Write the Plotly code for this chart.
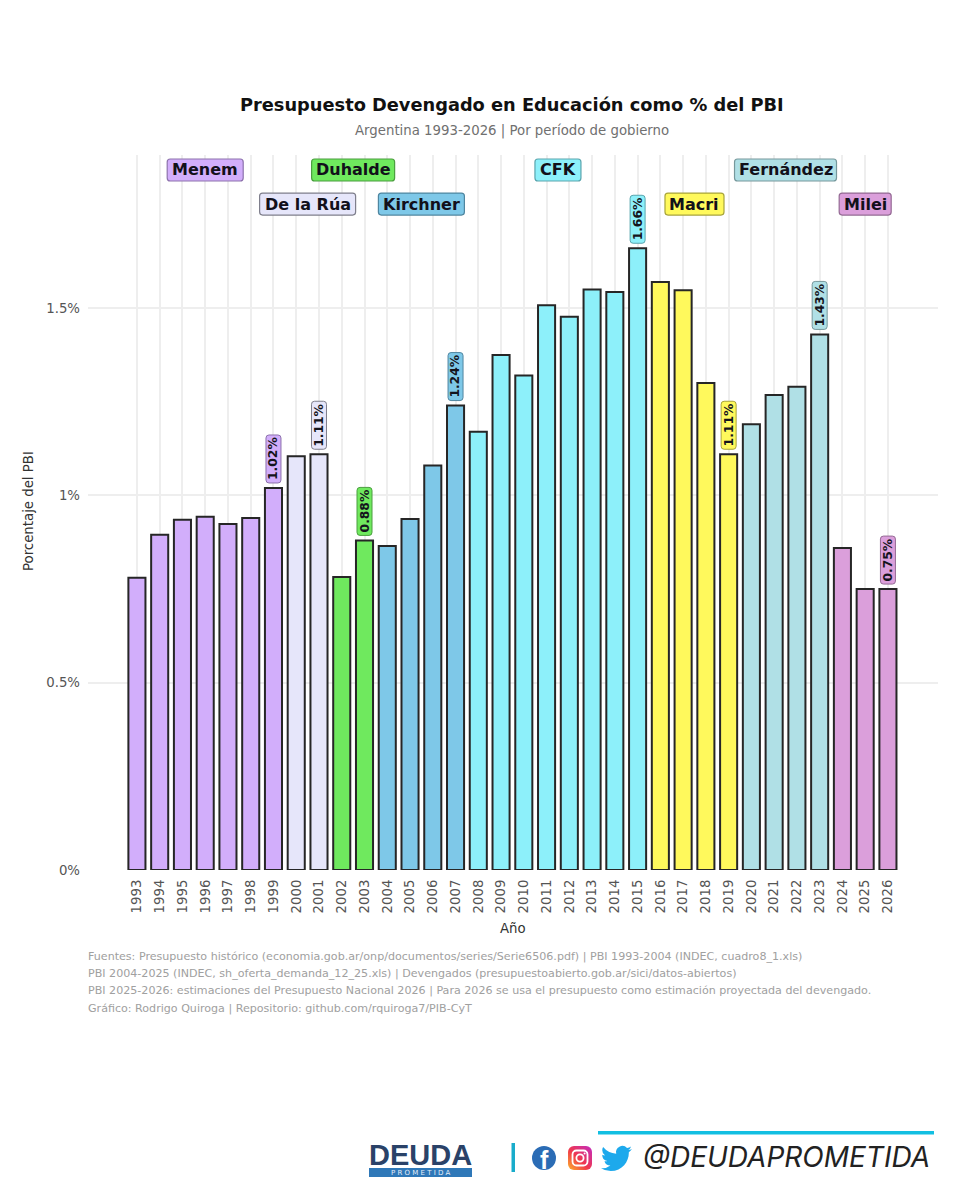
import plotly.graph_objects as go
import urllib.parse

years = list(range(1993, 2027))
gasto_pct_pbi = [0.78, 0.895, 0.935, 0.943, 0.924, 0.94, 1.02, 1.105, 1.11, 0.782,
                 0.88, 0.865, 0.937, 1.08, 1.24, 1.17, 1.375, 1.32, 1.508, 1.477,
                 1.55, 1.543, 1.66, 1.57, 1.548, 1.30, 1.11, 1.19, 1.268, 1.29,
                 1.43, 0.86, 0.75, 0.75]
period_names = ["Menem", "De la Rúa", "Duhalde", "Kirchner", "CFK", "Macri", "Fernández", "Milei"]
period_first = [1993, 2000, 2002, 2004, 2008, 2016, 2020, 2024]
period_last = [1999, 2001, 2003, 2007, 2015, 2019, 2023, 2026]
labelled_years = [1999, 2001, 2003, 2007, 2015, 2019, 2023, 2026]
y_ticks = [0, 0.5, 1, 1.5]
y_tick_labels = ["0%", "0.5%", "1%", "1.5%"]
footnotes = [
    "Fuentes: Presupuesto histórico (economia.gob.ar/onp/documentos/series/Serie6506.pdf) | PBI 1993-2004 (INDEC, cuadro8_1.xls)",
    "PBI 2004-2025 (INDEC, sh_oferta_demanda_12_25.xls) | Devengados (presupuestoabierto.gob.ar/sici/datos-abiertos)",
    "PBI 2025-2026: estimaciones del Presupuesto Nacional 2026 | Para 2026 se usa el presupuesto como estimación proyectada del devengado.",
    "Gráfico: Rodrigo Quiroga | Repositorio: github.com/rquiroga7/PIB-CyT",
]

# Styling per government
FILL = {"Menem": "#D2AEFB", "De la Rúa": "#E6E6FA", "Duhalde": "#6FE95E", "Kirchner": "#7EC8E8",
        "CFK": "#8DF0FA", "Macri": "#FFF95C", "Fernández": "#B0E0E6", "Milei": "#DB9FDB"}
EDGE = {"Menem": "#8D72AD", "De la Rúa": "#7F7F8C", "Duhalde": "#4A9E3E", "Kirchner": "#4F86A0",
        "CFK": "#5AA5AE", "Macri": "#A8A43A", "Fernández": "#76989C", "Milei": "#946A94"}
# Row (level on the y axis) and pill width in pixels for each government tag
TAG_LEVEL = {"Menem": 1.869, "Duhalde": 1.869, "CFK": 1.869, "Fernández": 1.869,
             "De la Rúa": 1.778, "Kirchner": 1.778, "Macri": 1.778, "Milei": 1.778}
TAG_WIDTH = {"Menem": 76, "De la Rúa": 96, "Duhalde": 83, "Kirchner": 86,
             "CFK": 46, "Macri": 59, "Fernández": 102, "Milei": 52}

FONT = "DejaVu Sans"
W, H = 960, 1200
L, R, T, B = 88, 938, 155, 870


# Paper coordinates for items laid out around the plot area
def fx(x):
    return (x - L) / (R - L)


def fy(y):
    return (B - y) / (B - T)


def pill(x0, x1, y0, y1, r=3):
    """Rounded rectangle as an SVG path, in pixels relative to its anchor."""
    return (f"M{x0 + r},{y0} L{x1 - r},{y0} Q{x1},{y0} {x1},{y0 + r} L{x1},{y1 - r} "
            f"Q{x1},{y1} {x1 - r},{y1} L{x0 + r},{y1} Q{x0},{y1} {x0},{y1 - r} "
            f"L{x0},{y0 + r} Q{x0},{y0} {x0 + r},{y0} Z")


def government(year):
    for name, a, b in zip(period_names, period_first, period_last):
        if a <= year <= b:
            return name


def paper_text(x, y, text, size, color, family=FONT, xanchor="center", **extra):
    font = dict(family=family, size=size, color=color)
    font.update(extra.pop("font_extra", {}))
    return dict(x=fx(x), y=fy(y), xref="paper", yref="paper", text=text, showarrow=False,
                xanchor=xanchor, yanchor="middle", font=font, **extra)


fig = go.Figure(go.Bar(
    x=years,
    y=gasto_pct_pbi,
    width=0.75,
    marker=dict(color=[FILL[government(y)] for y in years],
                line=dict(color="#262626", width=2)),
    hoverinfo="x+y",
))

shapes, notes = [], []

# Government tags along the top of the plot
for name, a, b in zip(period_names, period_first, period_last):
    cx = (a + b) / 2
    half = TAG_WIDTH[name] / 2
    shapes.append(dict(type="path", layer="above", xref="x", yref="y", xsizemode="pixel", ysizemode="pixel",
                       xanchor=cx, yanchor=TAG_LEVEL[name], path=pill(-half, half, -11, 11),
                       fillcolor=FILL[name], line=dict(color=EDGE[name], width=1.2)))
    notes.append(dict(x=cx, y=TAG_LEVEL[name], xref="x", yref="y", text=f"<b>{name}</b>", showarrow=False,
                      xanchor="center", yanchor="middle", font=dict(family=FONT, size=16, color="#12101a")))

# Value tags above the first/last years of each government
for year in labelled_years:
    value = gasto_pct_pbi[years.index(year)]
    name = government(year)
    shapes.append(dict(type="path", layer="above", xref="x", yref="y", xsizemode="pixel", ysizemode="pixel",
                       xanchor=year, yanchor=value, path=pill(-7.5, 7.5, 5, 53),
                       fillcolor=FILL[name], line=dict(color=EDGE[name], width=1)))
    notes.append(dict(x=year, y=value, xref="x", yref="y", text=f"<b>{value:.2f}%</b>", showarrow=False,
                      textangle=-90, xanchor="center", yanchor="bottom", yshift=6,
                      font=dict(family=FONT, size=12.3, color="#14141c")))

# Headings and axis titles
notes += [
    paper_text(512, 105, "<b>Presupuesto Devengado en Educación como % del PBI</b>", 17.8, "#111111"),
    paper_text(512, 131, "Argentina 1993-2026 | Por período de gobierno", 13.3, "#707070"),
    paper_text(513, 928, "Año", 13.3, "#333333"),
    paper_text(28, 511, "Porcentaje del PBI", 13.3, "#333333", textangle=-90),
]

# Source notes
for line, y in zip(footnotes, [956, 973, 990, 1008]):
    notes.append(paper_text(85.5, y, line, 11.1, "#a0a0a0", xanchor="left"))


# Account footer
def paper_rect(x0, y0, x1, y1, color):
    return dict(type="rect", xref="paper", yref="paper", x0=fx(x0), x1=fx(x1), y0=fy(y0), y1=fy(y1),
                fillcolor=color, line=dict(width=0))


shapes += [
    paper_rect(598, 1131, 934, 1134.5, "#12BFE2"),
    paper_rect(511.5, 1143, 515, 1172, "#19ACCB"),
    paper_rect(369, 1168, 472, 1177, "#2F78B8"),
    dict(type="circle", xref="paper", yref="paper", x0=fx(532), x1=fx(556), y0=fy(1146), y1=fy(1170),
         fillcolor="#2B6CB5", line=dict(width=0)),
]
notes += [
    paper_text(420.5, 1154.5, "<b>DEUDA</b>", 29, "#2A4268", family="Liberation Sans"),
    paper_text(420.5, 1172.5, "P R O M E T I D A", 7, "#E4EEF8"),
    paper_text(544.5, 1160, "<b>f</b>", 25, "#FFFFFF", family="Liberation Sans"),
    paper_text(640.5, 1157, "@DEUDAPROMETIDA", 28, "#222222", family="Inter", xanchor="left",
               font_extra=dict(style="italic", weight=400)),
]

instagram = ('<svg xmlns="http://www.w3.org/2000/svg" viewBox="0 0 24 24"><defs>'
             '<linearGradient id="g" x1="0" y1="1" x2="1" y2="0">'
             '<stop offset="0" stop-color="#FDB32B"/><stop offset="0.45" stop-color="#F0384C"/>'
             '<stop offset="1" stop-color="#C22BC0"/></linearGradient></defs>'
             '<rect width="24" height="24" rx="6" fill="url(#g)"/>'
             '<rect x="4.5" y="4.5" width="15" height="15" rx="4" fill="none" stroke="#fff" stroke-width="1.8"/>'
             '<circle cx="12" cy="12" r="3.6" fill="none" stroke="#fff" stroke-width="1.8"/>'
             '<circle cx="16.6" cy="7.4" r="1" fill="#fff"/></svg>')
bird = ('<svg xmlns="http://www.w3.org/2000/svg" viewBox="0 0 24 24"><path fill="#1DA9EC" d="M23.95 4.57a10 10 0 0 1-2.83.78 '
        '4.96 4.96 0 0 0 2.17-2.72 9.9 9.9 0 0 1-3.13 1.19 4.92 4.92 0 0 0-8.38 4.48A13.98 13.98 0 0 1 1.64 3.16a4.82 4.82 0 0 0-.67 '
        '2.48 4.92 4.92 0 0 0 2.19 4.1 4.9 4.9 0 0 1-2.23-.62v.06a4.92 4.92 0 0 0 3.95 4.83 4.9 4.9 0 0 1-2.21.08 4.94 4.94 0 0 0 '
        '4.6 3.42A9.87 9.87 0 0 1 0 19.54a13.94 13.94 0 0 0 7.55 2.21c9.06 0 14-7.5 14-13.98 0-.21 0-.42-.02-.63a9.94 9.94 0 0 0 '
        '2.42-2.57z"/></svg>')


def svg_image(svg, x0, y0, size):
    return dict(source="data:image/svg+xml," + urllib.parse.quote(svg), xref="paper", yref="paper",
                x=fx(x0), y=fy(y0), sizex=size / (R - L), sizey=size / (B - T),
                xanchor="left", yanchor="top", sizing="stretch", layer="above")


fig.update_layout(
    width=W, height=H,
    margin=dict(l=L, r=W - R, t=T, b=H - B, pad=0),
    paper_bgcolor="#FFFFFF",
    plot_bgcolor="#FFFFFF",
    showlegend=False,
    font=dict(family=FONT),
    xaxis=dict(range=[years[0] - 2.15, years[-1] + 2.2], tickmode="array", tickvals=years,
               ticktext=[str(y) for y in years], tickangle=-90, ticks="", showline=False,
               gridcolor="#EEEEEE", gridwidth=1.6, zeroline=False, ticklabelstandoff=6,
               tickfont=dict(family=FONT, size=13.3, color="#555555")),
    yaxis=dict(range=[0, 1.909], tickmode="array", tickvals=y_ticks, ticktext=y_tick_labels, ticks="",
               showline=False, gridcolor="#EEEEEE", gridwidth=1.6, zeroline=False, ticklabelstandoff=7,
               tickfont=dict(family=FONT, size=13.3, color="#555555")),
    shapes=shapes,
    annotations=notes,
    images=[svg_image(instagram, 568, 1146, 24), svg_image(bird, 601, 1143, 31)],
)

fig.write_html("out.html")
